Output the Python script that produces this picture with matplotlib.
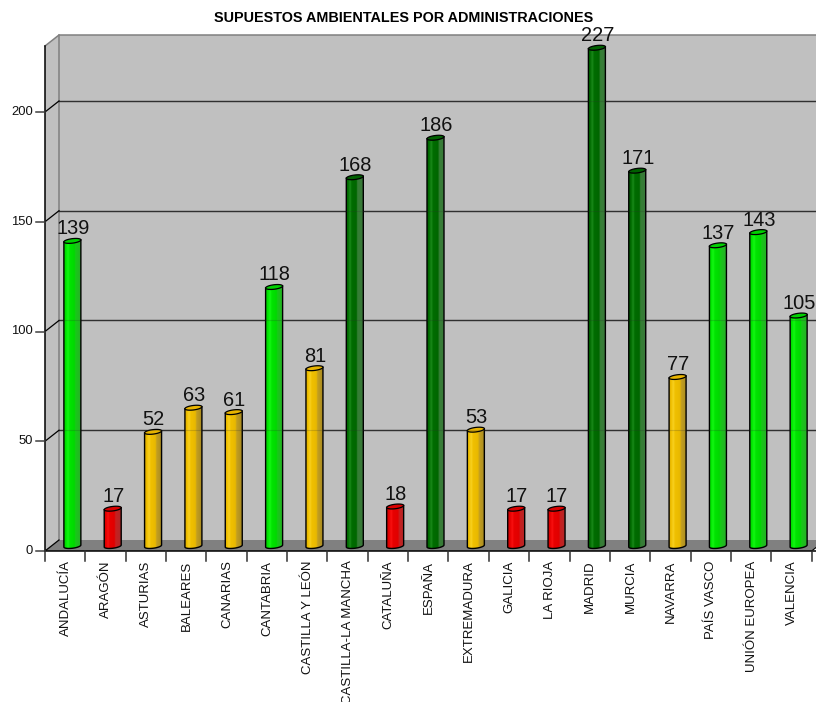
import numpy as np
import matplotlib
matplotlib.use('Agg')
import matplotlib.pyplot as plt
from matplotlib.patches import Polygon
from matplotlib.colors import LinearSegmentedColormap

plt.rcParams['font.family'] = ['Liberation Sans', 'DejaVu Sans']

regions = ['ANDALUCÍA', 'ARAGÓN', 'ASTURIAS', 'BALEARES', 'CANARIAS', 'CANTABRIA',
           'CASTILLA Y LEÓN', 'CASTILLA-LA MANCHA', 'CATALUÑA', 'ESPAÑA', 'EXTREMADURA',
           'GALICIA', 'LA RIOJA', 'MADRID', 'MURCIA', 'NAVARRA', 'PAÍS VASCO',
           'UNIÓN EUROPEA', 'VALENCIA']
values = [139, 17, 52, 63, 61, 118, 81, 168, 18, 186, 53, 17, 17, 227, 171, 77, 137, 143, 105]
bar_colors = ['light', 'red', 'amber', 'amber', 'amber', 'light', 'amber', 'dark', 'red', 'dark',
              'amber', 'red', 'red', 'dark', 'dark', 'amber', 'light', 'light', 'light']
y_ticks = [0, 50, 100, 150, 200]

W, H = 816, 702
fig = plt.figure(figsize=(W / 100, H / 100), dpi=100)

# axes = front plane of the 3d box, pixel positions
left, right, bottom, top = 45, 811.6, 551, 46
ax = fig.add_axes([left / W, 1 - bottom / H, (right - left) / W, (bottom - top) / H])
ax.set_xlim(0, len(regions))
ax.set_ylim(0, (bottom - top) / 2.195)
ax.axis('off')

px = len(regions) / (right - left)   # data units per pixel
py = 1 / 2.195
dx, dy = 14 * px, 11 * py            # depth of the box
ymax = ax.get_ylim()[1]
xend = len(regions) + 5 * px


def poly(pts, **kw):
    p = Polygon(pts, closed=True, clip_on=False, **kw)
    ax.add_patch(p)
    return p


wall = '#c0c0c0'
poly([(0, 0), (dx, dy), (dx, ymax + dy), (0, ymax)], fc=wall, ec='none', zorder=1)
poly([(dx, dy), (xend, dy), (xend, ymax + dy), (dx, ymax + dy)], fc=wall, ec='none', zorder=1)
poly([(0, 0), (len(regions), 0), (len(regions) + dx, dy), (dx, dy)], fc='#808080', ec='none', zorder=1)

# walls outline
ax.plot([dx, dx], [dy, ymax + dy], color='#808080', lw=1.1, zorder=2, clip_on=False)
ax.plot([0, dx, xend], [ymax, ymax + dy, ymax + dy], color='#808080', lw=1.1, zorder=2, clip_on=False)
ax.plot([0, 0], [0, ymax], color='black', lw=1.1, zorder=6, clip_on=False)
ax.plot([0, len(regions) + 0.2], [0, 0], color='black', lw=1.1, zorder=6, clip_on=False)
ax.plot([len(regions), len(regions) + dx * 0.4], [0, dy * 0.4], color='black', lw=0.8, zorder=2, clip_on=False)

# grid on back wall and y ticks
for v in y_ticks:
    if v > 0:
        ax.plot([dx, xend], [v + dy, v + dy], color='#303030', lw=1.0, zorder=2, clip_on=False)
        # the bars are a bit see-through
        ax.plot([dx, xend], [v + dy, v + dy], color='#303030', lw=0.8, alpha=0.2, zorder=5.5, clip_on=False)
    ax.plot([0, dx], [v, v + dy], color='black', lw=0.9, zorder=2, clip_on=False)
    ax.plot([-9 * px, 0], [v, v], color='#404040', lw=1.1, zorder=6, clip_on=False)
    ax.text(-12 * px, v, str(v), ha='right', va='center', fontsize=9.4, color='#111111', clip_on=False)

# x ticks
for i in range(len(regions) + 1):
    ax.plot([i, i], [0, -10 * py], color='#303030', lw=1.1, zorder=6, clip_on=False)

stops = [0, 0.12, 0.24, 0.34, 0.62, 0.68, 1]
shades = {
    'light': ['#00cc00', '#00e800', '#14f814', '#00e400', '#00d800', '#18c818', '#28b028'],
    'dark': ['#005a00', '#006c00', '#1a8a1a', '#006c00', '#006600', '#357f35', '#3a783a'],
    'amber': ['#d8a800', '#f0c000', '#f8d020', '#f0c000', '#e8b800', '#c4a020', '#a88a20'],
    'red': ['#c80000', '#e80000', '#f81010', '#e80000', '#e00000', '#c82020', '#b02828'],
}
tops = {'light': '#00d000', 'dark': '#006000', 'amber': '#e8b400', 'red': '#d80000'}

bw = 17 * px          # cylinder width
eh = 4.5 * py         # ellipse height
tilt = 1.0 * py       # top and bottom ellipses lean up to the right
xc0 = 0.5 + 7.2 * px  # cylinder centre, pushed back into the box
base = 5.0 * py
t = np.linspace(0, 2 * np.pi, 60)

for i, (name, val, col) in enumerate(zip(regions, values, bar_colors)):
    xc = i + xc0
    cmap = LinearSegmentedColormap.from_list('c' + col, list(zip(stops, shades[col])))
    grad = np.linspace(0, 1, 128).reshape(1, -1)
    im = ax.imshow(grad, cmap=cmap, aspect='auto', zorder=4, interpolation='bilinear',
                   extent=(xc - bw / 2, xc + bw / 2, base - eh, base + val))
    ex = xc + bw / 2 * np.cos(t)
    ey = eh / 2 * np.sin(t) + tilt * np.cos(t)
    # outline: straight sides plus the rounded bottom
    lower = np.linspace(np.pi, 2 * np.pi, 30)
    xs = xc + bw / 2 * np.cos(lower)
    ys = base + eh / 2 * np.sin(lower) + tilt * np.cos(lower)
    outline = np.vstack([[xc - bw / 2, base + val - tilt], np.column_stack([xs, ys]),
                         [xc + bw / 2, base + val + tilt]])
    clip = Polygon(outline, closed=True, transform=ax.transData, fc='none', ec='none')
    ax.add_patch(clip)
    im.set_clip_path(clip)
    ax.plot(outline[:, 0], outline[:, 1], color='black', lw=1.0, zorder=5, clip_on=False)
    poly(np.column_stack([ex, base + val + ey]), fc=tops[col], ec='black', lw=0.9, zorder=5)
    ax.text(xc + 0.5 * px, base + val + 2.5 * py, str(val), ha='center', va='bottom', fontsize=14.4,
            color='#111111', zorder=7, clip_on=False)
    ax.text(i + 0.5 + 0.5 * px, -9.5 * py, name, rotation=90, ha='center', va='top', fontsize=9.55,
            color='#111111', clip_on=False)

ax.set_xlim(0, len(regions))
ax.set_ylim(0, ymax)

fig.text(403.5 / W, 1 - 17.5 / H, 'SUPUESTOS AMBIENTALES POR ADMINISTRACIONES', ha='center', va='center',
         fontsize=10.4, fontweight='bold', color='black')

fig.savefig('out.png', dpi=100, facecolor='white')
